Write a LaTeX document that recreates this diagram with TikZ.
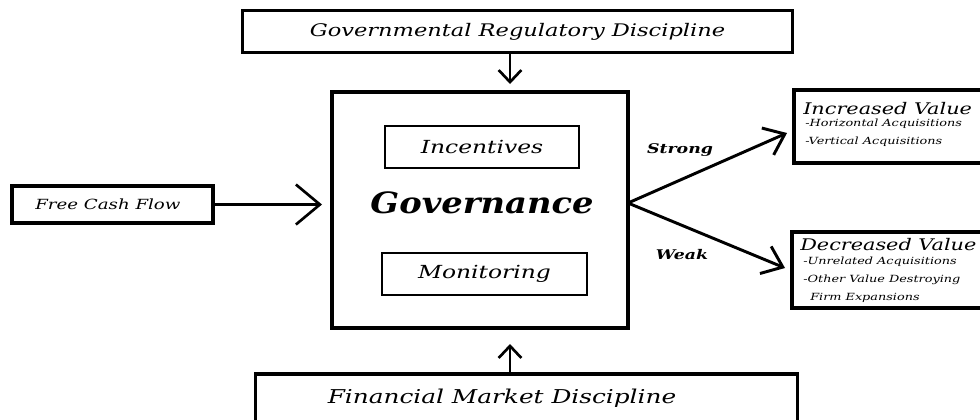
\documentclass[tikz,border=0pt]{standalone}
\usepackage{fontspec}
\setmainfont{DejaVu Serif}
\newfontfamily\wide[FakeStretch=1.3]{DejaVu Serif}
\newfontfamily\mwide[FakeStretch=1.15]{DejaVu Serif}
\usetikzlibrary{arrows.meta}
\begin{document}
\begin{tikzpicture}[x=0.75pt,y=-0.75pt,
  box/.style={draw, line width=2.3pt, inner sep=0pt},
  thinbox/.style={draw, line width=2pt, inner sep=0pt},
  txt/.style={inner sep=0pt},
  arr/.style={line width=2pt, -{Straight Barb[length=9pt,width=17pt,line width=2pt]}},
  bigarr/.style={line width=2pt, -{Straight Barb[length=18pt,width=30pt,line width=2pt]}},
  fanarr/.style={line width=2.2pt, -{Straight Barb[length=14pt,width=22pt,line width=2.2pt]}}]
\useasboundingbox (0,0) rectangle (980,419);
\clip (0,0) rectangle (980,419);
% top box
\node[box, minimum width=413pt, minimum height=31pt, font=\wide\itshape\fontsize{13}{15}\selectfont] (gov) at (517.5,31.5) {Governmental Regulatory Discipline};
% main box
\node[box, line width=2.8pt, minimum width=222pt, minimum height=177pt] (main) at (480,210) {};
\node[thinbox, minimum width=145.5pt, minimum height=31.5pt, font=\wide\itshape\fontsize{13.5}{15}\selectfont] (inc) at (482,147) {Incentives};
\node[thinbox, minimum width=153.75pt, minimum height=31.5pt, font=\wide\itshape\fontsize{13.5}{15}\selectfont] (mon) at (484.5,274) {Monitoring};
\node[inner sep=0pt, font=\mwide\bfseries\itshape\fontsize{22}{26}\selectfont] (gvn) at (482,203) {Governance};
% free cash flow
\node[box, minimum width=150.75pt, minimum height=27.75pt] (fcf) at (112.5,204.5) {};
\node[txt, anchor=west, font=\wide\itshape\fontsize{10.5}{12}\selectfont] (fcft) at (35,204) {Free Cash Flow};
% bottom box
\node[box, minimum width=407pt, minimum height=39pt] (fmd) at (526.5,400) {};
\node[txt, font=\wide\itshape\fontsize{14.3}{16}\selectfont] (fmdt) at (502,398) {Financial Market Discipline};
% right boxes
\node[box, minimum width=154.5pt, minimum height=54.75pt] (incv) at (897,126.5) {};
\node[txt, anchor=west, font=\wide\itshape\fontsize{12}{15}\selectfont] (incv1) at (803,109) {Increased Value};
\node[txt, anchor=west, font=\wide\itshape\fontsize{7.4}{8}\selectfont] (incv2) at (805,124) {-Horizontal Acquisitions};
\node[txt, anchor=west, font=\wide\itshape\fontsize{7.4}{8}\selectfont] (incv3) at (805,142) {-Vertical Acquisitions};
\node[box, minimum width=156pt, minimum height=57pt] (decv) at (896,270) {};
\node[txt, anchor=west, font=\wide\itshape\fontsize{12}{15}\selectfont] (decv1) at (800,245) {Decreased Value};
\node[txt, anchor=west, font=\wide\itshape\fontsize{7.4}{8}\selectfont] (decv2) at (803,262) {-Unrelated Acquisitions};
\node[txt, anchor=west, font=\wide\itshape\fontsize{7.4}{8}\selectfont] (decv3) at (803,280) {-Other Value Destroying};
\node[txt, anchor=west, font=\wide\itshape\fontsize{7.4}{8}\selectfont] (decv4) at (810,298) {Firm Expansions};
% labels
\node[inner sep=0pt, font=\wide\bfseries\itshape\fontsize{10}{12}\selectfont] (strong) at (680,150) {Strong};
\node[inner sep=0pt, font=\wide\bfseries\itshape\fontsize{10}{12}\selectfont] (weak) at (682,255) {Weak};
% connectors
\coordinate (topTip) at (510,84);
\coordinate (botTip) at (510,344);
\coordinate (fcfTip) at (322,204.5);
\coordinate (fan) at (628,203);
\coordinate (strTip) at (787,133);
\coordinate (wkTip) at (785,268);
\draw[arr] (gov.south -| topTip) -- (topTip);
\draw[arr] (fmd.north -| botTip) -- (botTip);
\draw[bigarr] (fcf.east) -- (fcfTip);
\draw[fanarr] (fan) -- (strTip);
\draw[fanarr] (fan) -- (wkTip);
\end{tikzpicture}
\end{document}
